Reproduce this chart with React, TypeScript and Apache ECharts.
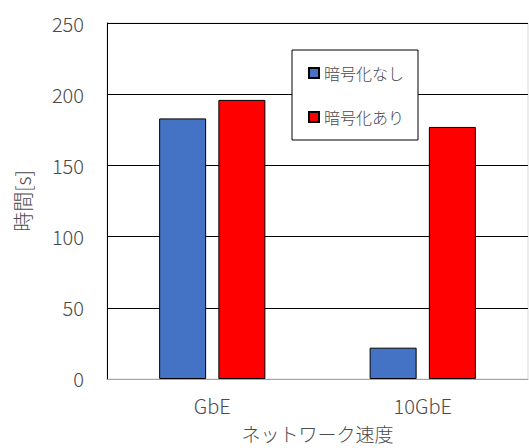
import React, { useEffect, useRef } from "react";
import * as echarts from "echarts";

const categories = ["GbE", "10GbE"];
const seriesNames = ["暗号化なし", "暗号化あり"];
const noEncryption = [183, 22];
const withEncryption = [196, 177];
const yTicks = { min: 0, max: 250, interval: 50 };

const FONT = "'Noto Sans CJK JP', 'Noto Sans', sans-serif";
const TXT = "#4a4a4a";

export default function App() {
  const ref = useRef<HTMLDivElement>(null);
  useEffect(() => {
    document.body.style.margin = "0";
    const chart = echarts.init(ref.current!, null, { renderer: "svg" });
    chart.setOption({
      animation: false,
      backgroundColor: "#ffffff",
      textStyle: { fontFamily: FONT },
      grid: {
        left: 107,
        right: 1,
        top: 23,
        bottom: 65,
        show: true,
        borderColor: "#d9d9d9",
        borderWidth: 1,
        backgroundColor: "transparent",
      },
      legend: {
        orient: "vertical",
        left: 292,
        top: 50,
        padding: [15, 14, 15, 16],
        itemGap: 28,
        itemWidth: 10,
        itemHeight: 10,
        icon: "rect",
        borderColor: "#000000",
        borderWidth: 1,
        backgroundColor: "#ffffff",
        textStyle: { fontFamily: FONT, fontSize: 16, fontWeight: 300, color: TXT },
        data: seriesNames,
      },
      xAxis: {
        type: "category",
        data: categories,
        name: "ネットワーク速度",
        nameLocation: "middle",
        nameGap: 45,
        nameTextStyle: { fontFamily: FONT, fontSize: 19, fontWeight: 300, color: TXT },
        axisLine: { show: true, lineStyle: { color: "#a6a6a6", width: 1 } },
        axisTick: { show: false },
        axisLabel: { fontFamily: FONT, fontSize: 20, fontWeight: 300, color: TXT, margin: 17 },
      },
      yAxis: {
        type: "value",
        min: yTicks.min,
        max: yTicks.max,
        interval: yTicks.interval,
        name: "時間[s]",
        nameLocation: "middle",
        nameGap: 75,
        nameTextStyle: { fontFamily: FONT, fontSize: 20, fontWeight: 300, color: TXT },
        axisLine: { show: true, lineStyle: { color: "#000000", width: 1 } },
        axisTick: { show: false },
        axisLabel: { fontFamily: FONT, fontSize: 20, fontWeight: 300, color: TXT, margin: 23 },
        splitLine: { show: true, lineStyle: { color: "#000000", width: 1 } },
      },
      series: [
        {
          name: seriesNames[0],
          type: "bar",
          data: noEncryption,
          barWidth: 47,
          barGap: "26%",
          itemStyle: { color: "#4472C4", borderColor: "#000000", borderWidth: 1 },
        },
        {
          name: seriesNames[1],
          type: "bar",
          data: withEncryption,
          barWidth: 47,
          barGap: "26%",
          itemStyle: { color: "#FF0000", borderColor: "#000000", borderWidth: 1 },
        },
      ],
    });
    return () => chart.dispose();
  }, []);
  return <div ref={ref} style={{ width: 529, height: 448 }} />;
}
